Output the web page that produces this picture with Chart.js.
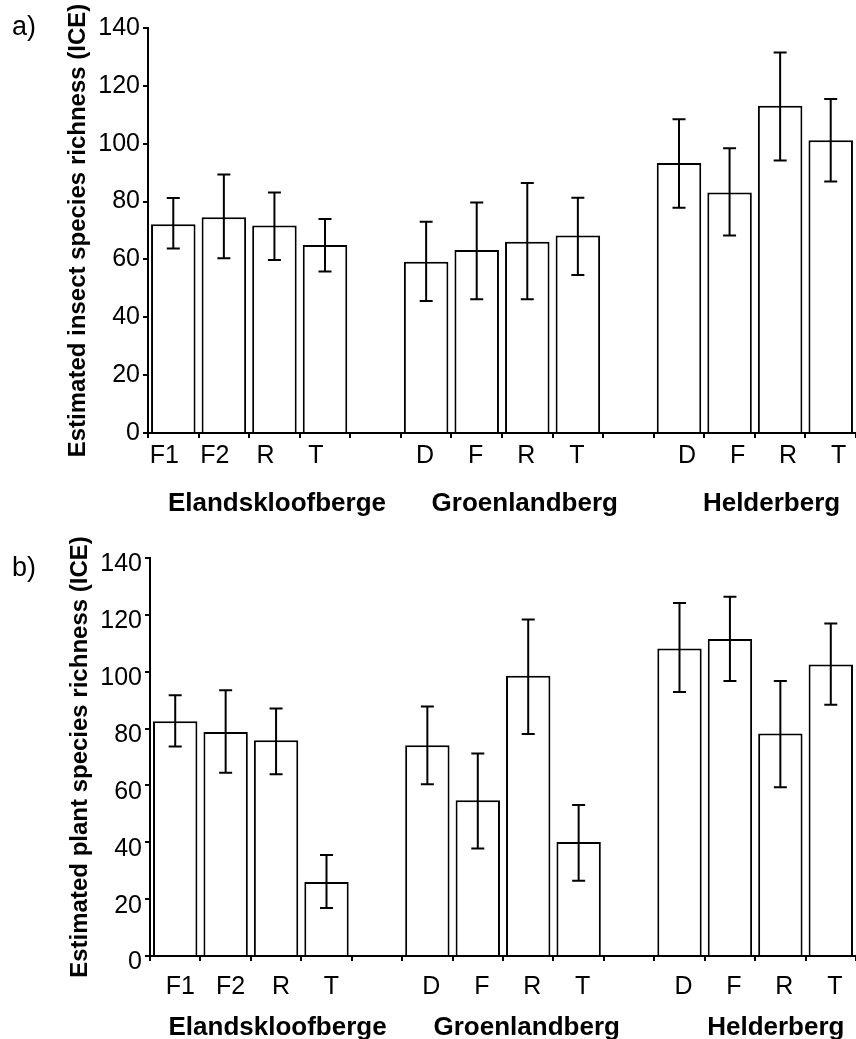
<!DOCTYPE html>
<html>
<head>
<meta charset="utf-8">
<script src="https://cdn.jsdelivr.net/npm/chart.js@4.4.1/dist/chart.umd.min.js"></script>
<style>
  body { margin: 0; background: #fff; overflow: hidden; }
  .panel { position: absolute; left: 0; width: 856px; }
  .tag { position: absolute; left: 12px; font: 27px "Liberation Sans", Arial, sans-serif; line-height: 1; color: #000; }
</style>
</head>
<body>
<div class="panel" style="top:0;height:520px"><canvas id="chartA"></canvas></div>
<div class="panel" style="top:520px;height:519px"><canvas id="chartB"></canvas></div>
<div class="tag" style="top:13px">a)</div>
<div class="tag" style="top:554px">b)</div>
<script>
// sites per mountain, empty slots are the gaps between mountains
const categories = ["F1", "F2", "R", "T", "", "D", "F", "R", "T", "", "D", "F", "R", "T"];
const groups = ["Elandskloofberge", "Groenlandberg", "Helderberg"];

const insectRichness = [72.2, 74.6, 71.7, 65.0, null, 59.2, 63.3, 66.1, 68.3, null, 93.3, 83.1, 113.1, 101.2];
const insectUpper = [81.2, 89.4, 83.1, 74.0, null, 73.0, 79.7, 86.4, 81.3, null, 108.5, 98.4, 131.5, 115.5];
const insectLower = [63.8, 60.4, 59.8, 55.8, null, 45.6, 46.2, 46.2, 54.6, null, 77.9, 68.3, 94.2, 86.9];

const plantRichness = [82.6, 78.8, 75.9, 26.0, null, 74.1, 54.8, 98.6, 40.1, null, 108.2, 111.5, 78.3, 102.5];
const plantUpper = [91.7, 93.5, 87.1, 35.5, null, 87.8, 71.2, 118.4, 53.1, null, 124.2, 126.4, 96.7, 117.0];
const plantLower = [73.7, 64.5, 63.9, 16.9, null, 60.4, 37.8, 78.1, 26.5, null, 92.9, 96.7, 59.4, 88.4];

const yMax = 140;
const yStep = 20;

const FONT = '"Liberation Sans", Arial, sans-serif';

function makeErrorBars(upper, lower) {
  return {
    id: "errorBars",
    afterDatasetsDraw(chart) {
      const ctx = chart.ctx;
      const y = chart.scales.y;
      const bars = chart.getDatasetMeta(0).data;
      ctx.save();
      ctx.strokeStyle = "#000";
      ctx.lineWidth = 2;
      bars.forEach((bar, i) => {
        if (upper[i] == null) return;
        const top = y.getPixelForValue(upper[i]);
        const bot = y.getPixelForValue(lower[i]);
        ctx.beginPath();
        ctx.moveTo(bar.x, top);
        ctx.lineTo(bar.x, bot);
        ctx.moveTo(bar.x - 6.5, top);
        ctx.lineTo(bar.x + 6.5, top);
        ctx.moveTo(bar.x - 6.5, bot);
        ctx.lineTo(bar.x + 6.5, bot);
        ctx.stroke();
      });
      ctx.restore();
    }
  };
}

// site letters and mountain names under the x axis
function makeSiteLabels(lay) {
  return {
    id: "siteLabels",
    afterDraw(chart) {
      const ctx = chart.ctx;
      const x = chart.scales.x;
      const bottom = chart.chartArea.bottom;
      ctx.save();
      ctx.fillStyle = "#000";
      ctx.textAlign = "center";
      ctx.textBaseline = "middle";
      ctx.font = "25px " + FONT;
      categories.forEach((c, i) => {
        if (!c) return;
        const g = Math.floor(i / 5);
        ctx.fillText(c, x.getPixelForValue(i) + lay.shift[g], bottom + lay.tickDy);
      });
      ctx.font = "bold 26px " + FONT;
      ctx.textBaseline = "alphabetic";
      groups.forEach((name, k) => {
        ctx.fillText(name, x.getPixelForValue(lay.groupAt[k]), bottom + lay.groupDy);
      });
      ctx.restore();
    }
  };
}

function makeChart(id, values, upper, lower, title, lay) {
  return new Chart(document.getElementById(id), {
    type: "bar",
    data: {
      labels: categories,
      datasets: [{
        data: values,
        backgroundColor: "#fff",
        borderColor: "#000",
        borderWidth: 2,
        barPercentage: 0.88,
        categoryPercentage: 1
      }]
    },
    options: {
      responsive: true,
      maintainAspectRatio: false,
      animation: false,
      layout: { padding: { top: lay.top, left: 0, right: 0, bottom: 0 } },
      plugins: { legend: { display: false }, tooltip: { enabled: false } },
      scales: {
        x: {
          grid: { offset: true, drawOnChartArea: false, tickLength: 5, color: "#000", lineWidth: 2 },
          border: { color: "#000", width: 2 },
          ticks: { display: false },
          afterFit: (s) => { s.height = lay.xHeight; }
        },
        y: {
          min: 0,
          max: yMax,
          ticks: {
            stepSize: yStep,
            color: "#000",
            font: { family: FONT, size: 25 },
            padding: 3,
            labelOffset: lay.labelOffset
          },
          grid: { drawOnChartArea: false, tickLength: 5, color: "#000", lineWidth: 2 },
          border: { color: "#000", width: 2 },
          title: {
            display: true,
            text: title,
            color: "#000",
            font: { family: FONT, size: 24, weight: "bold" },
            padding: { top: lay.titlePad, bottom: 0 }
          },
          afterFit: (s) => { s.width = lay.yWidth; }
        }
      }
    },
    plugins: [makeErrorBars(upper, lower), makeSiteLabels(lay)]
  });
}

makeChart("chartA", insectRichness, insectUpper, insectLower,
  "Estimated insect species richness (ICE)",
  { top: 28, yWidth: 148, xHeight: 87, labelOffset: 0, titlePad: 64,
    shift: [-9, -1, 8], tickDy: 23, groupDy: 78, groupAt: [2.05, 6.95, 11.83] });

makeChart("chartB", plantRichness, plantUpper, plantLower,
  "Estimated plant species richness (ICE)",
  { top: 38, yWidth: 150, xHeight: 83, labelOffset: 6.5, titlePad: 66,
    shift: [5, 4, 4], tickDy: 31, groupDy: 79, groupAt: [2.03, 6.97, 11.91] });
</script>
</body>
</html>
